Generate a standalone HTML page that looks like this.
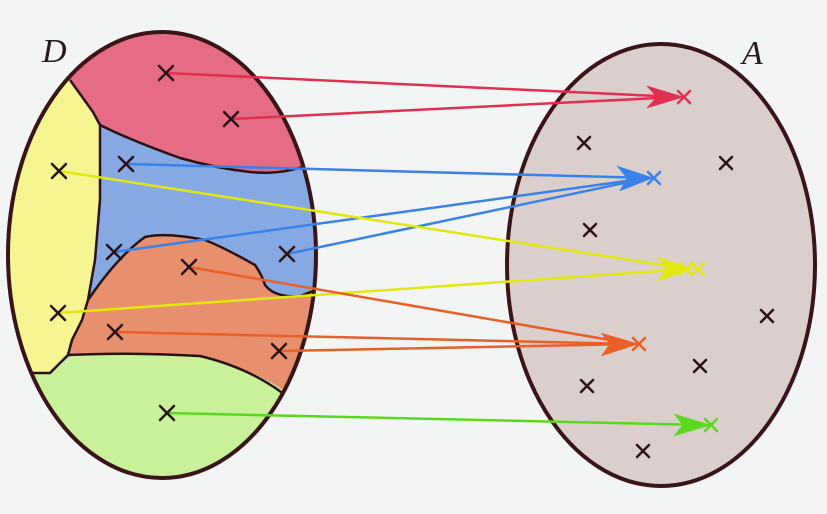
<!DOCTYPE html>
<html><head><style>
body{margin:0;background:#f3f5f4;}
svg{display:block}
</style></head><body>
<svg width="827" height="514" viewBox="0 0 827 514" xmlns="http://www.w3.org/2000/svg">
<defs>
<clipPath id="L"><ellipse cx="162" cy="255" rx="154" ry="223"/></clipPath>
<marker id="mr" viewBox="0 0 12 10" refX="11" refY="5" markerWidth="12" markerHeight="10" markerUnits="userSpaceOnUse" orient="auto"><path d="M0,0 L12,5 L0,10 L3,5z" fill="#e0304f"/></marker>
</defs>
<rect width="827" height="514" fill="#f3f5f4"/>
<g clip-path="url(#L)">
<rect x="0" y="0" width="330" height="500" fill="#86a9e4"/>
<path d="M0,0 L330,0 L330,168 L300,168 Q280,175 250,172 Q215,168 180,158 Q130,140 100,125 L93,112 L70,80 L0,80z" fill="#e66b85"/>
<path d="M0,70 L70,80 L93,112 L100,125 L100,200 L95,260 L88,300 L82,320 L72,340 L68,355 L50,373 L0,373z" fill="#f6f592"/>
<path d="M88,300 L95,290 Q120,255 145,237 Q165,232 205,240 Q225,248 255,265 Q262,275 265,285 Q275,298 300,296 L330,290 L330,420 L283,390 Q250,368 200,356 Q130,352 70,356 L72,340 L82,320z" fill="#e88f6d"/>
<path d="M0,373 L50,373 L70,356 Q130,352 200,356 Q250,368 283,390 L330,420 L330,500 L0,500z" fill="#c8f19a"/>
<g fill="none" stroke="#2a1215" stroke-width="2.5">
<path d="M70,80 L93,112 L100,125 L100,200 L95,260 L88,300 L82,320 L72,340 L68,355 L50,373 L30,373"/>
<path d="M100,125 Q130,140 180,158 Q215,168 250,172 Q280,175 305,166"/>
<path d="M88,300 L95,290 Q120,255 145,237 Q165,232 205,240 Q225,248 255,265 Q262,275 265,285 Q275,298 300,296 L316,290"/>
<path d="M68,355 Q130,352 200,356 Q250,368 285,395"/>
</g>
</g>
<ellipse cx="162" cy="255" rx="154" ry="223" fill="none" stroke="#3a1518" stroke-width="4"/>
<ellipse cx="661" cy="265" rx="154" ry="221" fill="#dbcfcd" stroke="#3a1518" stroke-width="4"/>
<text x="42" y="62" font-family="Liberation Serif" font-style="italic" font-size="34" fill="#2a1a1a">D</text>
<text x="742" y="64" font-family="Liberation Serif" font-style="italic" font-size="34" fill="#2a1a1a">A</text>
<g stroke-width="2.5" fill="none">
<g stroke="#e0304f"><line x1="166" y1="73" x2="678" y2="97"/><line x1="231" y1="119" x2="678" y2="97"/><path d="M650,88 L680,97 L650,106 L658,97z" fill="#e0304f"/></g>
<g stroke="#3b82e8"><line x1="126" y1="164" x2="648" y2="178"/><line x1="114" y1="252" x2="648" y2="178"/><line x1="287" y1="254" x2="648" y2="178"/><path d="M620,168 L650,178 L622,189 L628,178z" fill="#3b82e8"/></g>
<g stroke="#e0e80e"><line x1="59" y1="171" x2="688" y2="269"/><line x1="58" y1="313" x2="688" y2="269"/><path d="M660,259 L690,269 L660,279 L667,269z" fill="#e0e80e"/></g>
<g stroke="#e86028"><line x1="189" y1="267" x2="633" y2="344"/><line x1="115" y1="332" x2="633" y2="344"/><line x1="279" y1="351" x2="633" y2="344"/><path d="M604,335 L635,344 L604,354 L611,344z" fill="#e86028"/></g>
<g stroke="#5ad81e"><line x1="167" y1="413" x2="705" y2="425"/><path d="M677,416 L707,425 L677,434 L684,425z" fill="#5ad81e"/></g>
</g>
<g stroke-width="2.5" stroke-linecap="round">
<g stroke="#2a1215">
<path d="M159,66l14,14M173,66l-14,14"/><path d="M224,112l14,14M238,112l-14,14"/>
<path d="M119,157l14,14M133,157l-14,14"/><path d="M107,245l14,14M121,245l-14,14"/><path d="M280,247l14,14M294,247l-14,14"/>
<path d="M52,164l14,14M66,164l-14,14"/><path d="M51,306l14,14M65,306l-14,14"/>
<path d="M182,260l14,14M196,260l-14,14"/><path d="M108,325l14,14M122,325l-14,14"/><path d="M272,344l14,14M286,344l-14,14"/>
<path d="M160,406l14,14M174,406l-14,14"/>
<path d="M578,137l12,12M590,137l-12,12"/><path d="M720,157l12,12M732,157l-12,12"/><path d="M584,224l12,12M596,224l-12,12"/>
<path d="M761,310l12,12M773,310l-12,12"/><path d="M694,360l12,12M706,360l-12,12"/><path d="M581,380l12,12M593,380l-12,12"/><path d="M637,445l12,12M649,445l-12,12"/>
</g>
<path d="M678,91l12,12M690,91l-12,12" stroke="#e0304f"/>
<path d="M648,172l12,12M660,172l-12,12" stroke="#3b82e8"/>
<path d="M680,263l12,12M692,263l-12,12M692,263l12,12M704,263l-12,12" stroke="#e0e80e"/>
<path d="M633,338l12,12M645,338l-12,12" stroke="#e86028"/>
<path d="M705,419l12,12M717,419l-12,12" stroke="#5ad81e"/>
</g>
</svg>
</body></html>
